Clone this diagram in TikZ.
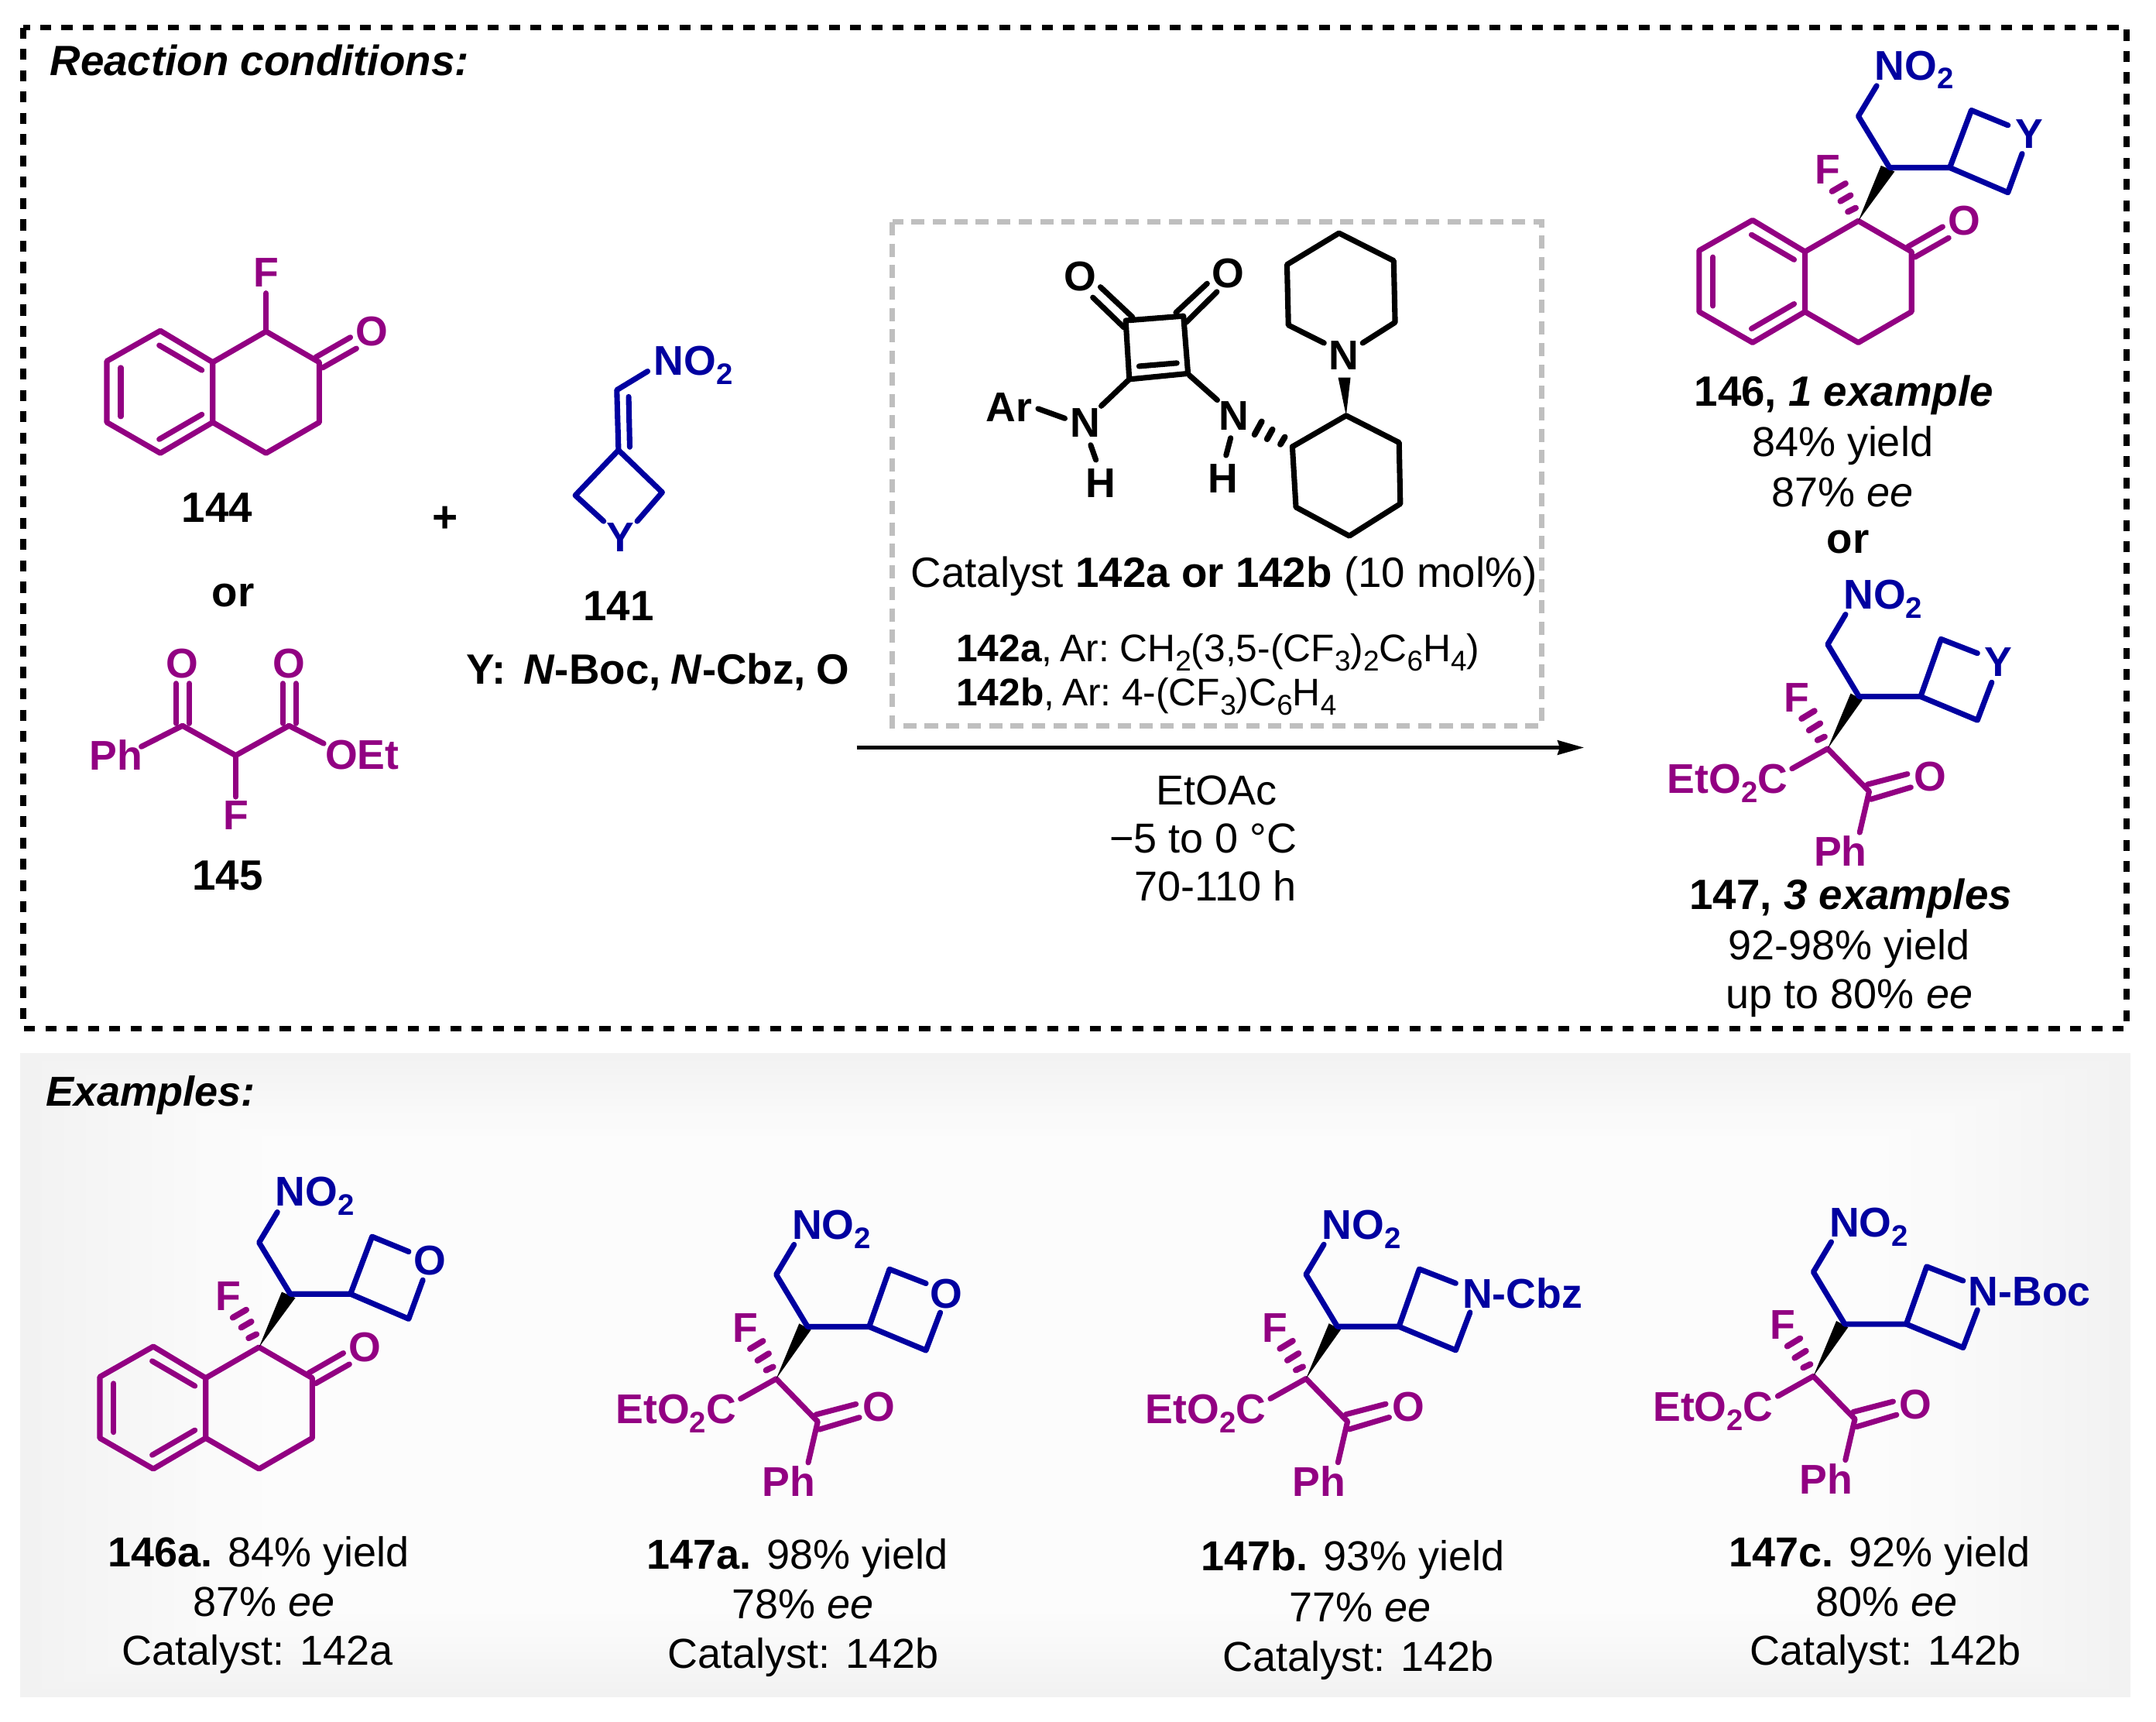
\documentclass[tikz,border=0pt]{standalone}
\usepackage{fontspec}
\setmainfont{Liberation Sans}
\usetikzlibrary{arrows.meta}
\definecolor{pur}{RGB}{146,0,130}
\definecolor{blu}{RGB}{0,0,160}
\newcommand{\subs}[1]{\raisebox{-0.22em}{\fontsize{10.8pt}{12pt}\selectfont #1}}
\newcommand{\subm}[1]{\raisebox{-0.25em}{\fontsize{10.4pt}{12pt}\selectfont #1}}
\tikzset{
  x=0.5pt,y=-0.5pt,
  bond/.style={line width=2pt,line cap=round,line join=round},
  pb/.style={bond,draw=pur},
  bb/.style={bond,draw=blu},
  kb/.style={bond,draw=black},
  hash/.style={line width=2.2pt,line cap=round},
  atom/.style={inner sep=0pt,font=\fontsize{15.1pt}{18pt}\bfseries},
  patom/.style={atom,text=pur},
  batom/.style={atom,text=blu},
  katom/.style={atom,text=black},
  txt/.style={inner sep=0pt,anchor=base,font=\fontsize{15.2pt}{18pt}\selectfont},
  btxt/.style={txt,font=\fontsize{15.4pt}{18pt}\bfseries},
  small/.style={inner sep=0pt,anchor=base west,font=\fontsize{14pt}{17pt}\selectfont},
}
% tetralin skeleton (coordinates of 146)
\newcommand{\tetralin}{%
  \draw[pb] (1235.7,182.2)--(1274.6,160.1)--(1312.7,183)--(1312.7,226.7)--(1274.6,249.1)--(1235.7,226.7)--cycle;
  \draw[pb] (1312.7,183)--(1351.5,160.6)--(1390.2,183)--(1390.2,226.7)--(1351.5,249.1)--(1312.7,226.7);
  \draw[pb] (1245.8,187)--(1245.8,222.4);
  \draw[pb] (1273.8,170.7)--(1304.8,188.8);
  \draw[pb] (1273.8,239)--(1304.8,221);
  \draw[pb] (1387.7,179.3)--(1412.8,164.9);
  \draw[pb] (1392.6,187)--(1417.2,173);
  \node[patom] (oxo) at (1428.3,160.6) {O};
}
% product 146 type; #1 = ring hetero atom label
\newcommand{\molA}[1]{%
  \tetralin
  \draw[pur,hash] (1332.4,139.1)--(1342.2,133.4) (1338.5,146.3)--(1345.9,142) (1343.9,154)--(1349.6,151.2);
  \node[patom] (fl) at (1329.2,123.3) {F};
  \fill[black] (1351.5,160.6)--(1368,120.4)--(1377.9,124.7)--cycle;
  \draw[bb] (1364.8,62.4)--(1351.5,84.5)--(1374.2,121.9)--(1418,121.9);
  \draw[bb] (1460.3,91.1)--(1433.7,80.2)--(1418,121.9)--(1460.3,140)--(1470.6,111.8);
  \node[batom,anchor=base west] (nitro) at (1363,58) {NO\subs{2}};
  \node[batom] (het) at (1475.8,97.5) {#1};
}
% product 147 type; #1 = complete ring hetero atom node
\newcommand{\molB}[1]{%
  \draw[pb] (1303.3,558.9)--(1329.2,544.4)--(1359.4,575.5)--(1352.5,605.3);
  \draw[pb] (1358.2,570.4)--(1387.2,562.8);
  \draw[pb] (1360.6,581.2)--(1389.7,572.5);
  \node[patom,anchor=base east] (ester) at (1300.5,577) {EtO\subs{2}C};
  \node[patom] (oxo) at (1403.7,564.9) {O};
  \node[patom] (ph) at (1338.5,618.9) {Ph};
  \node[patom] (fl) at (1306.8,507.3) {F};
  \draw[pur,hash] (1310.2,522.6)--(1319.6,516.9) (1315.6,531.1)--(1323.8,526) (1321.8,538.2)--(1327,535.7);
  \fill[black] (1329.2,544.4)--(1345.9,504.2)--(1354.5,508.8)--cycle;
  \draw[bb] (1342.2,446.8)--(1329.2,468.6)--(1352,506.5)--(1396.8,506.5);
  \draw[bb] (1438.1,475)--(1411.6,464.7)--(1396.8,506.5)--(1438.1,523.7)--(1448.5,496.2);
  \node[batom,anchor=base west] (nitro) at (1340.4,443) {NO\subs{2}};
  #1
}
\begin{document}
\begin{tikzpicture}
\useasboundingbox (0,0) rectangle (1568,1252);
\fill[white] (0,0) rectangle (1568,1252);
% examples panel
\foreach \i in {0,...,11}{
  \pgfmathsetmacro{\g}{95+0.36*\i}
  \definecolor{panelgray}{gray}{\fpeval{\g/100}}
  \fill[panelgray] (14.6+\i*16,765.7+\i*5.5) rectangle (1549.6-\i*16,1234-\i*5.5);
}
% frames
\draw[black,line width=2.2pt,dash pattern=on 4pt off 3.75pt] (17,20) rectangle (1546.6,748);
\draw[black!25,line width=2pt,dash pattern=on 4.8pt off 3pt] (649,161.5) rectangle (1121,528);
% titles
\node[inner sep=0pt,anchor=base west,font=\fontsize{15.4pt}{18pt}\bfseries\itshape] (t1) at (36,55) {Reaction conditions:};
\node[inner sep=0pt,anchor=base west,font=\fontsize{15.2pt}{18pt}\bfseries\itshape] (t2) at (33,804) {Examples:};
% 144
\begin{scope}[shift={(-1158,80.4)},name prefix=m144-]
  \tetralin
  \draw[pb] (1351.5,160.6)--(1351.5,132.8);
  \node[patom] (f) at (1351.5,117.6) {F};
\end{scope}
\node[btxt] (n144) at (158,380) {144};
\node[btxt] (or1) at (169.5,441) {or};
% 145
\draw[pb] (102.8,542.9)--(132.7,527.7)--(171.4,549.3)--(210.2,527.7)--(235.4,540.6);
\draw[pb] (128,526)--(128,497) (137.7,526)--(137.7,497);
\draw[pb] (205.6,526)--(205.6,497) (215.2,526)--(215.2,497);
\draw[pb] (171.4,549.3)--(171.4,579.4);
\node[patom] (o145a) at (132.7,482.8) {O};
\node[patom] (o145b) at (210.2,482.8) {O};
\node[patom] (ph145) at (84.2,549) {Ph};
\node[patom,anchor=base west] (oet145) at (236.2,559.5) {OEt};
\node[patom] (f145) at (171.4,592.6) {F};
\node[btxt] (n145) at (165.6,647) {145};
\node[txt,font=\fontsize{16pt}{18pt}\bfseries] (plus) at (324,387) {+};
% 141
\draw[bb] (471,270)--(448.6,283.6)--(449.8,327.3);
\draw[bb] (457.2,288.5)--(458,325);
\draw[bb] (439,379)--(418.4,360.2)--(449.8,327.3)--(481.6,358)--(463.4,379);
\node[batom,anchor=base west] (no141) at (475.2,273) {NO\subs{2}};
\node[batom] (y141) at (451.4,391) {Y};
\node[btxt] (n141) at (449.8,451.5) {141};
\node[inner sep=0pt,anchor=base west,font=\fontsize{15.4pt}{18pt}\bfseries] (ydef) at (339,497.5) {Y:\hspace{0.42em}\textit{N}-Boc,\hspace{0.24em}\textit{N}-Cbz,\hspace{0.24em}O};
% catalyst
\draw[kb] (818.7,233.1)--(860.7,229.8)--(864,271.6)--(821.3,275.8)--cycle;
\draw[kb] (828.4,266.3)--(855.9,264);
\draw[kb] (800.3,208.7)--(823.6,230.6) (794.8,216.3)--(817.4,238.1);
\draw[kb] (877.9,206.2)--(855.2,227.3) (885,212.2)--(862.7,234.4);
\node[katom] (oa) at (785.7,200.8) {O};
\node[katom] (ob) at (893,199) {O};
\draw[kb] (821.3,275.8)--(800.9,295.2);
\node[katom] (na) at (789,307.6) {N};
\node[katom] (ar) at (734,296.2) {Ar};
\draw[kb] (755,297.2)--(774.4,304.2);
\draw[kb] (793.2,323.6)--(797,334.4);
\node[katom] (ha) at (800.3,351.6) {H};
\draw[kb] (864.9,272.8)--(885.3,290.9);
\node[katom] (nb) at (897.2,302.6) {N};
\draw[kb] (895,318.5)--(891.7,331.1);
\node[katom] (hb) at (889.2,347.8) {H};
\draw[black,hash] (912.4,316)--(917.6,306.5) (921.5,319.3)--(925.4,312.3) (931.2,323.1)--(934.4,317.8);
\draw[kb] (939.9,324.8)--(979,302.2)--(1017.5,321.8)--(1018.4,366.3)--(981.3,389.7)--(942.5,368.8)--cycle;
\fill[black] (979,302.2)--(973.2,274.6)--(982.2,274.6)--cycle;
\node[katom] (nc) at (977.1,258.6) {N};
\draw[kb] (962.9,249.4)--(937,236.4)--(936,192.4)--(973.8,169.5)--(1013.6,189.6)--(1014.6,234.4)--(991,249.4);
\node[inner sep=0pt,anchor=base west,font=\fontsize{15.4pt}{18pt}\selectfont] (cat) at (662,427) {Catalyst \textbf{142a or 142b} (10 mol\%)};
\node[small] (cata) at (695,481) {\textbf{142a},\hspace{0.2em}Ar:\hspace{0.27em}CH\subm{2}(3,5-(CF\subm{3})\subm{2}C\subm{6}H\subm{4})};
\node[small] (catb) at (695,513) {\textbf{142b},\hspace{0.2em}Ar:\hspace{0.27em}4-(CF\subm{3})C\subm{6}H\subm{4}};
% arrow
\coordinate (arrowstart) at (623,543.6);
\coordinate (arrowend) at (1152,543.6);
\draw[line width=1.3pt,-{Stealth[length=9.6pt,width=5.2pt,inset=0.8pt]}] (arrowstart)--(arrowend);
\node[txt] (solv) at (885,585) {EtOAc};
\node[txt] (temp) at (875,620) {−5 to 0 °C};
\node[txt] (time) at (884,655) {70-110 h};
% products
\begin{scope}[name prefix=p146-]
  \molA{Y}
\end{scope}
\node[txt,font=\fontsize{15.4pt}{18pt}\selectfont] (l146a) at (1341,295.5) {\textbf{146, \textit{1 example}}};
\node[txt] (l146b) at (1340,332) {84\% yield};
\node[txt] (l146c) at (1340,368.5) {87\% \textit{ee}};
\node[btxt] (or2) at (1344,402.5) {or};
\begin{scope}[name prefix=p147-]
  \molB{\node[batom] (het) at (1453.4,481.6) {Y};}
\end{scope}
\node[txt,font=\fontsize{15.4pt}{18pt}\selectfont] (l147a) at (1346,661) {\textbf{147, \textit{3 examples}}};
\node[txt] (l147b) at (1345,698) {92-98\% yield};
\node[txt] (l147c) at (1345,733.5) {up to 80\% \textit{ee}};
% examples
\begin{scope}[shift={(-1163.1,819)},name prefix=e146a-]
  \molA{O}
\end{scope}
\node[txt] (e1a) at (188,1139) {\textbf{146a.} 84\% yield};
\node[txt] (e1b) at (192,1175) {87\% \textit{ee}};
\node[txt] (e1c) at (187,1211) {Catalyst: 142a};
\begin{scope}[shift={(-764.7,458.2)},name prefix=e147a-]
  \molB{\node[batom] (het) at (1453,482.4) {O};}
\end{scope}
\node[txt] (e2a) at (580,1141) {\textbf{147a.} 98\% yield};
\node[txt] (e2b) at (584,1177) {78\% \textit{ee}};
\node[txt] (e2c) at (584,1213) {Catalyst: 142b};
\begin{scope}[shift={(-379.4,458.1)},name prefix=e147b-]
  \molB{\node[batom,anchor=base west] (het) at (1442.6,493) {N-Cbz};}
\end{scope}
\node[txt] (e3a) at (984,1142) {\textbf{147b.} 93\% yield};
\node[txt] (e3b) at (989,1179) {77\% \textit{ee}};
\node[txt] (e3c) at (988,1215) {Catalyst: 142b};
\begin{scope}[shift={(-10.4,456.3)},name prefix=e147c-]
  \molB{\node[batom,anchor=base west] (het) at (1441.6,493) {N-Boc};}
\end{scope}
\node[txt] (e4a) at (1367,1139) {\textbf{147c.} 92\% yield};
\node[txt] (e4b) at (1372,1175) {80\% \textit{ee}};
\node[txt] (e4c) at (1371,1211) {Catalyst: 142b};
\end{tikzpicture}
\end{document}
